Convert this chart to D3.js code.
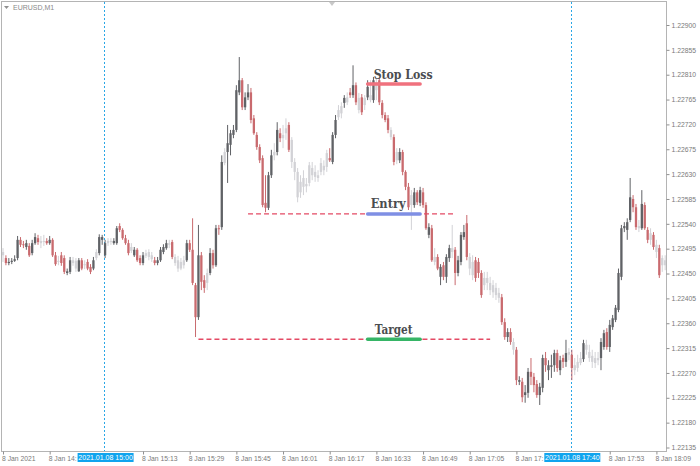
<!DOCTYPE html>
<html><head><meta charset="utf-8">
<script src="https://cdn.jsdelivr.net/npm/d3@7"></script>
<style>body{margin:0;background:#fff}svg{display:block}</style>
</head><body>
<svg id="c" width="700" height="466"></svg>
<script>
// ---- data: EURUSD M1, 8 Jan 2021, first bar 14:25, one bar per minute ----
const symbolLabel = "EURUSD,M1";
const firstBar = "14:25";
const opens = [1.22483,1.22478,1.22469,1.22471,1.22473,1.22478,1.22511,1.22503,1.22498,1.22500,
1.22487,1.22505,1.22514,1.22509,1.22507,1.22509,1.22505,1.22511,1.22483,1.22471,
1.22483,1.22478,1.22451,1.22453,1.22474,1.22473,1.22454,1.22474,1.22467,1.22471,
1.22462,1.22459,1.22478,1.22487,1.22511,1.22483,1.22505,1.22509,1.22505,1.22505,
1.22536,1.22529,1.22514,1.22505,1.22498,1.22483,1.22493,1.22478,1.22469,1.22487,
1.22489,1.22483,1.22474,1.22469,1.22474,1.22489,1.22496,1.22505,1.22507,1.22480,
1.22474,1.22471,1.22465,1.22474,1.22505,1.22493,1.22429,1.22371,1.22483,1.22438,
1.22433,1.22451,1.22487,1.22465,1.22532,1.22534,1.22650,1.22670,1.22683,1.22701,
1.22710,1.22778,1.22800,1.22751,1.22769,1.22778,1.22731,1.22701,1.22679,1.22659,
1.22578,1.22569,1.22628,1.22664,1.22670,1.22704,1.22701,1.22704,1.22719,1.22692,
1.22652,1.22634,1.22616,1.22623,1.22612,1.22614,1.22641,1.22634,1.22628,1.22634,
1.22645,1.22643,1.22659,1.22652,1.22701,1.22733,1.22740,1.22759,1.22769,1.22778,
1.22773,1.22791,1.22768,1.22769,1.22755,1.22769,1.22773,1.22764,1.22796,1.22800,
1.22759,1.22737,1.22731,1.22710,1.22697,1.22655,1.22655,1.22670,1.22634,1.22607,
1.22574,1.22574,1.22597,1.22578,1.22597,1.22574,1.22520,1.22532,1.22480,1.22480,
1.22444,1.22465,1.22444,1.22478,1.22496,1.22493,1.22451,1.22471,1.22516,1.22541,
1.22480,1.22471,1.22474,1.22471,1.22451,1.22442,1.22442,1.22433,1.22429,1.22424,
1.22415,1.22407,1.22362,1.22335,1.22344,1.22326,1.22312,1.22254,1.22254,1.22230,
1.22234,1.22272,1.22263,1.22250,1.22230,1.22243,1.22297,1.22275,1.22281,1.22284,
1.22306,1.22275,1.22297,1.22290,1.22308,1.22303,1.22284,1.22279,1.22288,1.22295,
1.22321,1.22308,1.22301,1.22297,1.22293,1.22297,1.22317,1.22344,1.22317,1.22353,
1.22366,1.22384,1.22444,1.22532,1.22529,1.22547,1.22585,1.22570,1.22536,1.22532,
1.22574,1.22529,1.22523,1.22520,1.22502,1.22496,1.22465,1.22474];
const highs = [1.22496,1.22483,1.22478,1.22478,1.22483,1.22518,1.22516,1.22509,1.22511,1.22505,
1.22511,1.22523,1.22520,1.22518,1.22520,1.22514,1.22518,1.22514,1.22489,1.22482,
1.22489,1.22483,1.22459,1.22480,1.22480,1.22478,1.22478,1.22478,1.22474,1.22476,
1.22467,1.22480,1.22494,1.22521,1.22520,1.22511,1.22514,1.22514,1.22514,1.22536,
1.22541,1.22532,1.22520,1.22511,1.22505,1.22498,1.22496,1.22483,1.22489,1.22493,
1.22494,1.22489,1.22480,1.22480,1.22498,1.22503,1.22511,1.22511,1.22511,1.22485,
1.22482,1.22478,1.22482,1.22511,1.22511,1.22550,1.22433,1.22538,1.22489,1.22447,
1.22459,1.22496,1.22493,1.22538,1.22538,1.22664,1.22677,1.22719,1.22710,1.22719,
1.22791,1.22842,1.22804,1.22778,1.22793,1.22786,1.22737,1.22706,1.22684,1.22664,
1.22628,1.22634,1.22674,1.22686,1.22724,1.22713,1.22719,1.22731,1.22724,1.22697,
1.22659,1.22641,1.22628,1.22637,1.22623,1.22652,1.22652,1.22646,1.22637,1.22659,
1.22655,1.22674,1.22677,1.22706,1.22737,1.22755,1.22760,1.22773,1.22778,1.22786,
1.22827,1.22796,1.22777,1.22775,1.22773,1.22800,1.22800,1.22806,1.22804,1.22804,
1.22764,1.22742,1.22737,1.22715,1.22702,1.22677,1.22677,1.22674,1.22637,1.22614,
1.22601,1.22605,1.22601,1.22607,1.22605,1.22579,1.22541,1.22538,1.22496,1.22485,
1.22467,1.22471,1.22485,1.22502,1.22538,1.22498,1.22482,1.22525,1.22538,1.22556,
1.22487,1.22483,1.22480,1.22478,1.22456,1.22453,1.22453,1.22444,1.22438,1.22433,
1.22424,1.22413,1.22369,1.22351,1.22351,1.22333,1.22317,1.22264,1.22261,1.22248,
1.22279,1.22297,1.22270,1.22257,1.22252,1.22303,1.22308,1.22293,1.22303,1.22312,
1.22312,1.22301,1.22303,1.22330,1.22315,1.22312,1.22297,1.22303,1.22308,1.22330,
1.22330,1.22321,1.22312,1.22308,1.22308,1.22333,1.22348,1.22351,1.22366,1.22375,
1.22393,1.22459,1.22538,1.22543,1.22550,1.22623,1.22592,1.22576,1.22547,1.22601,
1.22579,1.22534,1.22532,1.22525,1.22511,1.22502,1.22483,1.22483];
const lows = [1.22471,1.22465,1.22465,1.22467,1.22471,1.22474,1.22498,1.22496,1.22493,1.22480,
1.22483,1.22502,1.22502,1.22496,1.22500,1.22502,1.22502,1.22480,1.22464,1.22465,
1.22464,1.22449,1.22447,1.22449,1.22464,1.22453,1.22453,1.22456,1.22458,1.22456,
1.22449,1.22456,1.22474,1.22483,1.22502,1.22478,1.22500,1.22502,1.22502,1.22502,
1.22525,1.22511,1.22502,1.22483,1.22487,1.22480,1.22471,1.22465,1.22465,1.22478,
1.22474,1.22471,1.22465,1.22465,1.22471,1.22485,1.22493,1.22496,1.22476,1.22464,
1.22453,1.22456,1.22459,1.22471,1.22489,1.22429,1.22335,1.22366,1.22420,1.22415,
1.22420,1.22447,1.22459,1.22462,1.22520,1.22529,1.22646,1.22614,1.22664,1.22695,
1.22706,1.22773,1.22746,1.22746,1.22764,1.22722,1.22701,1.22674,1.22650,1.22570,
1.22561,1.22565,1.22623,1.22655,1.22664,1.22688,1.22677,1.22692,1.22670,1.22641,
1.22619,1.22579,1.22587,1.22592,1.22597,1.22608,1.22619,1.22616,1.22616,1.22628,
1.22628,1.22634,1.22652,1.22648,1.22695,1.22728,1.22731,1.22750,1.22755,1.22768,
1.22768,1.22755,1.22740,1.22737,1.22746,1.22764,1.22760,1.22759,1.22764,1.22755,
1.22731,1.22724,1.22704,1.22692,1.22646,1.22648,1.22650,1.22628,1.22601,1.22565,
1.22529,1.22569,1.22574,1.22572,1.22569,1.22529,1.22514,1.22471,1.22465,1.22456,
1.22429,1.22438,1.22433,1.22471,1.22478,1.22429,1.22445,1.22465,1.22511,1.22474,
1.22447,1.22438,1.22435,1.22442,1.22406,1.22420,1.22420,1.22411,1.22406,1.22402,
1.22397,1.22357,1.22330,1.22326,1.22321,1.22303,1.22248,1.22248,1.22217,1.22216,
1.22225,1.22248,1.22235,1.22225,1.22212,1.22235,1.22272,1.22257,1.22261,1.22272,
1.22272,1.22266,1.22279,1.22281,1.22293,1.22257,1.22266,1.22272,1.22284,1.22290,
1.22303,1.22290,1.22279,1.22279,1.22284,1.22275,1.22312,1.22312,1.22308,1.22348,
1.22362,1.22380,1.22438,1.22525,1.22511,1.22543,1.22561,1.22529,1.22525,1.22529,
1.22529,1.22505,1.22502,1.22493,1.22478,1.22442,1.22453,1.22456];
const closes = [1.22489,1.22469,1.22471,1.22473,1.22476,1.22511,1.22502,1.22502,1.22505,1.22483,
1.22505,1.22516,1.22507,1.22505,1.22509,1.22505,1.22511,1.22483,1.22467,1.22473,
1.22469,1.22453,1.22454,1.22474,1.22469,1.22459,1.22474,1.22459,1.22465,1.22459,
1.22453,1.22474,1.22489,1.22516,1.22516,1.22505,1.22509,1.22507,1.22509,1.22532,
1.22529,1.22514,1.22505,1.22487,1.22491,1.22493,1.22474,1.22469,1.22483,1.22482,
1.22480,1.22476,1.22469,1.22474,1.22493,1.22498,1.22505,1.22502,1.22480,1.22469,
1.22459,1.22459,1.22474,1.22505,1.22493,1.22433,1.22371,1.22483,1.22435,1.22424,
1.22451,1.22487,1.22465,1.22532,1.22531,1.22652,1.22670,1.22686,1.22704,1.22710,
1.22782,1.22800,1.22751,1.22769,1.22778,1.22728,1.22704,1.22679,1.22655,1.22574,
1.22569,1.22628,1.22664,1.22670,1.22710,1.22695,1.22695,1.22713,1.22674,1.22652,
1.22634,1.22588,1.22597,1.22607,1.22608,1.22646,1.22628,1.22625,1.22623,1.22650,
1.22637,1.22668,1.22655,1.22701,1.22728,1.22746,1.22753,1.22768,1.22760,1.22773,
1.22791,1.22760,1.22746,1.22742,1.22768,1.22788,1.22764,1.22800,1.22782,1.22760,
1.22737,1.22728,1.22710,1.22697,1.22652,1.22670,1.22670,1.22634,1.22607,1.22570,
1.22592,1.22597,1.22579,1.22601,1.22574,1.22532,1.22534,1.22474,1.22471,1.22459,
1.22462,1.22444,1.22480,1.22496,1.22489,1.22451,1.22474,1.22520,1.22525,1.22480,
1.22459,1.22447,1.22442,1.22451,1.22411,1.22429,1.22433,1.22420,1.22416,1.22411,
1.22406,1.22362,1.22335,1.22344,1.22326,1.22312,1.22257,1.22257,1.22226,1.22235,
1.22272,1.22263,1.22248,1.22230,1.22245,1.22297,1.22284,1.22284,1.22284,1.22306,
1.22279,1.22293,1.22290,1.22306,1.22303,1.22279,1.22275,1.22290,1.22297,1.22324,
1.22312,1.22297,1.22290,1.22288,1.22297,1.22326,1.22342,1.22317,1.22357,1.22369,
1.22388,1.22451,1.22532,1.22536,1.22543,1.22588,1.22570,1.22534,1.22532,1.22576,
1.22532,1.22511,1.22511,1.22498,1.22489,1.22447,1.22478,1.22465];
// bars drawn in a muted grey in the source picture
const mutedBars = [0,13,14,19,24,25,28,32,36,37,44,49,50,51,57,59,60,61,62,70,76,93,96,97,
 99,100,101,102,103,104,105,106,107,108,109,110,111,115,116,118,122,124,126,128,133,135,140,148,154,
 160,161,165,166,167,168,169,170,175,194,196,197,198,200,201,202,203,204,218,222,224,226,227];

const priceTicks = [1.22135,1.22180,1.22225,1.22270,1.22315,1.22360,1.22405,1.22450,1.22495,
 1.22540,1.22585,1.22630,1.22675,1.22720,1.22765,1.22810,1.22855,1.22900];
const timeTicks = ["14:25","14:41","15:13","15:29","15:45","16:01","16:17","16:33","16:49","17:05","17:21","17:53","18:09"];
// visible label text (two labels are cut off by the highlighted time boxes in the source)
const timeTickLabels = ["8 Jan 2021","8 Jan 14:","8 Jan 15:13","8 Jan 15:29","8 Jan 15:45","8 Jan 16:01",
 "8 Jan 16:17","8 Jan 16:33","8 Jan 16:49","8 Jan 17:05","8 Jan 17:","8 Jan 17:53","8 Jan 18:09"];
const highlightTimes = ["15:00","17:40"];
const highlightLabels = ["2021.01.08 15:00","2021.01.08 17:40"];

// trade levels
const levelNames  = ["Stop Loss","Entry","Target"];
const levelPrices = [1.22793, 1.22558, 1.22331];
const levelDashFrom = [null, "15:49", "15:32"];
const levelDashTo   = [null, "17:00", "17:12"];
const markerFrom = "16:30", markerTo = "16:48";

// ---- drawing ----
const labelWidths = [59, 35, 38];
const labelOffsets = [1, -2, 2];
const T = s => new Date(2021,0,8,+s.slice(0,2),+s.slice(3,5));
const W=700,H=466, L=2, R=666, TOP=2, BOT=451;
const pxPerBar = 2.917, nBars = closes.length;
const t0 = T(firstBar);
const barTime = i => new Date(t0.getTime()+i*60000);
const x = d3.scaleTime().domain([t0, barTime(nBars-1)]).range([3, 3+(nBars-1)*pxPerBar]);
const y = d3.scaleLinear().domain([1.22135,1.22900]).range([447.5,25]);

const svg = d3.select("#c");
svg.append("rect").attr("width",W).attr("height",H).attr("fill","#fff");
svg.append("defs").append("clipPath").attr("id","clip").append("rect")
  .attr("x",L).attr("y",TOP).attr("width",R-L).attr("height",BOT-TOP);

const plot = svg.append("g").attr("clip-path","url(#clip)");

// highlight vertical dotted lines
highlightTimes.forEach(t=>{
  const xx = Math.round(x(T(t)))-0.5;
  plot.append("line").attr("x1",xx).attr("x2",xx).attr("y1",TOP).attr("y2",BOT)
    .attr("stroke","#2aa7e6").attr("stroke-width",1).attr("stroke-dasharray","2,2");
});

const muted = new Set(mutedBars);
const bars = d3.range(nBars).map(i=>({i,t:barTime(i),o:opens[i],h:highs[i],l:lows[i],c:closes[i],m:muted.has(i)}));
const colorOf = d => d.m ? "#d2d2d6" : (d.c>=d.o ? "#606266" : "#c96a6e");
const g = plot.append("g");
g.selectAll("line.w").data(bars).enter().append("line")
  .attr("x1",d=>x(d.t)).attr("x2",d=>x(d.t))
  .attr("y1",d=>y(d.h)).attr("y2",d=>y(d.l))
  .attr("stroke",colorOf).attr("stroke-width",1);
g.selectAll("rect.b").data(bars).enter().append("rect")
  .attr("x",d=>x(d.t)-1.15).attr("width",2.3)
  .attr("y",d=>Math.min(y(d.o),y(d.c)))
  .attr("height",d=>Math.max(1,Math.abs(y(d.o)-y(d.c))))
  .attr("fill",colorOf);

// trade level annotations
const markerColors = ["#f0717e","#7f8fe4","#36b566"];
levelNames.forEach((name,k)=>{
  const yy = y(levelPrices[k]);
  if (levelDashFrom[k]) {
    plot.append("line").attr("x1",x(T(levelDashFrom[k]))).attr("x2",x(T(levelDashTo[k])))
      .attr("y1",yy).attr("y2",yy).attr("stroke","#e44a64").attr("stroke-width",1.4)
      .attr("stroke-dasharray","5,3");
  }
  plot.append("line").attr("x1",x(T(markerFrom))).attr("x2",x(T(markerTo)))
    .attr("y1",yy).attr("y2",yy).attr("stroke",markerColors[k]).attr("stroke-width",3.5)
    .attr("stroke-linecap","round");
  plot.append("text").attr("x",x(T(markerFrom))+5+labelOffsets[k]).attr("y",yy-5.5)
    .attr("font-family","'DejaVu Serif',serif").attr("font-weight","bold")
    .attr("font-size","12.5px").attr("fill","#4b4d50")
    .attr("textLength",labelWidths[k]).attr("lengthAdjust","spacingAndGlyphs").text(name);
});

// frame
svg.append("rect").attr("x",L-0.5).attr("y",TOP-0.5).attr("width",R-L+1).attr("height",BOT-TOP+1)
  .attr("fill","none").attr("stroke","#b4b4b4").attr("stroke-width",1);
svg.append("path").attr("d","M329,2L335,2L332,6Z").attr("fill","#c8c8c8");

// symbol label
svg.append("path").attr("d","M4,6L9,6L6.5,9Z").attr("fill","#909090");
svg.append("text").attr("x",13).attr("y",10).attr("font-family","'Liberation Sans',sans-serif")
  .attr("font-size","7px").attr("fill","#8a8a8a").text(symbolLabel);

// right price axis
const yAxis = svg.append("g").attr("transform",`translate(${R+0.5},0)`)
  .call(d3.axisRight(y).tickValues(priceTicks).tickSize(3).tickPadding(2).tickFormat(d=>d.toFixed(5)));
yAxis.select(".domain").remove();
yAxis.selectAll("line").attr("stroke","#909090");
yAxis.selectAll("text").attr("font-family","'Liberation Sans',sans-serif").attr("font-size","6.8px").attr("fill","#7a7a7a");

// bottom time axis
const xAxis = svg.append("g").attr("transform",`translate(0,${BOT+0.5})`)
  .call(d3.axisBottom(x).tickValues(timeTicks.map(T)).tickSize(3).tickPadding(2)
    .tickFormat((d,i)=> timeTickLabels[i]));
xAxis.select(".domain").remove();
xAxis.selectAll("line").attr("stroke","#909090");
xAxis.selectAll("text").attr("text-anchor","start").attr("dx","-1.5")
  .attr("font-family","'Liberation Sans',sans-serif").attr("font-size","6.8px").attr("fill","#7a7a7a");

// highlighted time labels
highlightTimes.forEach((t,k)=>{
  const cx = x(T(t));
  svg.append("rect").attr("x",cx-27.5).attr("y",453).attr("width",56).attr("height",9).attr("fill","#10a4ee");
  svg.append("text").attr("x",cx+0.5).attr("y",460.2).attr("text-anchor","middle")
    .attr("font-family","'Liberation Sans',sans-serif").attr("font-size","7px").attr("fill","#fff")
    .text(highlightLabels[k]);
});
</script>
</body></html>
